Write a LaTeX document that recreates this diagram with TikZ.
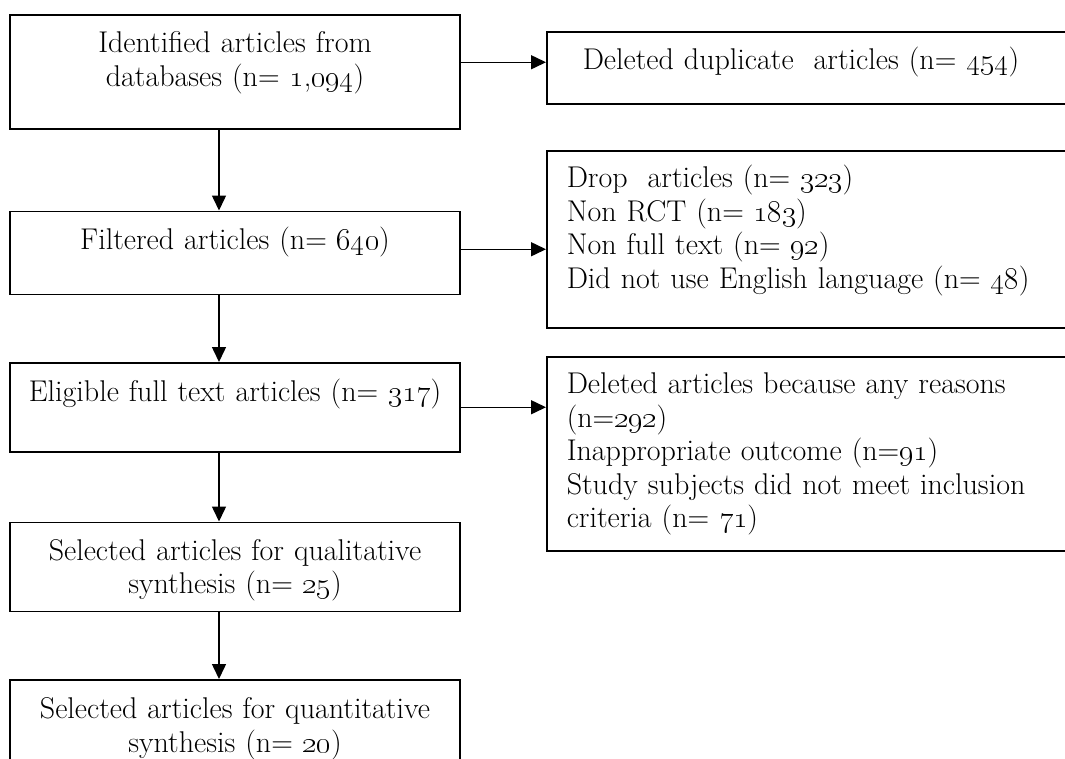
\documentclass[tikz,border=0pt]{standalone}
\usepackage{fix-cm}
\usepackage{tikz}
\usetikzlibrary{arrows.meta}
\usetikzlibrary{positioning}
\newcommand{\osn}[1]{\oldstylenums{#1}}
\newcommand{\topgap}[1]{\rule{0pt}{#1}}
\newcommand{\botgap}[1]{\rule[-#1]{0pt}{#1}}
\tikzstyle{main_box} = [
    draw=black, 
    line width=1.5pt, 
    font=\fontsize{30}{33.5}\selectfont, 
    text width=450pt, 
    align=center, 
    inner sep=0pt
]
\tikzstyle{side_box} = [
    draw=black, 
    line width=1.5pt, 
    font=\fontsize{30}{33.5}\selectfont, 
    anchor=north west, 
    text width=494pt, 
    align=left, 
    inner xsep=20pt, % text starts a bit inside the frame
    inner ysep=0pt
]
\tikzstyle{flow_arrow} = [
    -{Triangle[length=15pt, width=14pt]}, 
    line width=1.5pt
]

\begin{document}
\begin{tikzpicture}[x=1pt, y=-1pt]
\useasboundingbox (0,0) rectangle (1065,758);
\clip (0,0) rectangle (1065,758);
% main column
\node [main_box, anchor=north] (ident) at (235,14)
    {\topgap{38pt}Identified articles from\\ databases (n= \osn{1},\osn{094})\botgap{42.5pt}};
\node [main_box, below=81pt of ident] (filtered)
    {\topgap{38pt}Filtered articles (n= \osn{640})\botgap{45pt}};
\node [main_box, below=67pt of filtered] (eligible)
    {\topgap{39pt}Eligible full text articles (n= \osn{317})\botgap{50pt}};
\node [main_box, below=69pt of eligible] (qual)
    {\topgap{38pt}Selected articles for qualitative\\ synthesis (n= \osn{25})\botgap{17.5pt}};
\node [main_box, below=67pt of qual] (quant)
    {\topgap{39pt}Selected articles for quantitative\\ synthesis (n= \osn{20})\botgap{30pt}};
% excluded articles
\node [side_box, inner xsep=36pt, text width=462pt] (dup) at (546,31)
    {\topgap{38pt}Deleted duplicate\ \ articles (n= \osn{454})\botgap{34pt}};
\node [side_box] (drop) at (546,150)
    {\topgap{37pt}Drop\ \ articles (n= \osn{323})\\ Non RCT (n= \osn{183})\\ Non full text (n= \osn{92})\\ Did not use English language (n= \osn{48})\botgap{39.5pt}};
\node [side_box] (deleted) at (546,356)
    {\topgap{37pt}Deleted articles because any reasons\\ (n=\osn{292})\\ Inappropriate outcome (n=\osn{91})\\ Study subjects did not meet inclusion\\ criteria (n= \osn{71})\botgap{23pt}};
% arrows
\draw [flow_arrow] ([xshift=-16pt]ident.south) -- ([xshift=-16pt]filtered.north);
\draw [flow_arrow] ([xshift=-16pt]filtered.south) -- ([xshift=-16pt]eligible.north);
\draw [flow_arrow] ([xshift=-16pt]eligible.south) -- ([xshift=-16pt]qual.north);
\draw [flow_arrow] ([xshift=-16pt]qual.south) -- ([xshift=-16pt]quant.north);
\draw [flow_arrow] ([yshift=9.5pt]ident.east) -- ([yshift=9.5pt]ident.east -| dup.west);
\draw [flow_arrow] ([yshift=3.5pt]filtered.east) -- ([yshift=3.5pt]filtered.east -| drop.west);
\draw [flow_arrow] (eligible.east) -- (eligible.east -| deleted.west);
\end{tikzpicture}
\end{document}
